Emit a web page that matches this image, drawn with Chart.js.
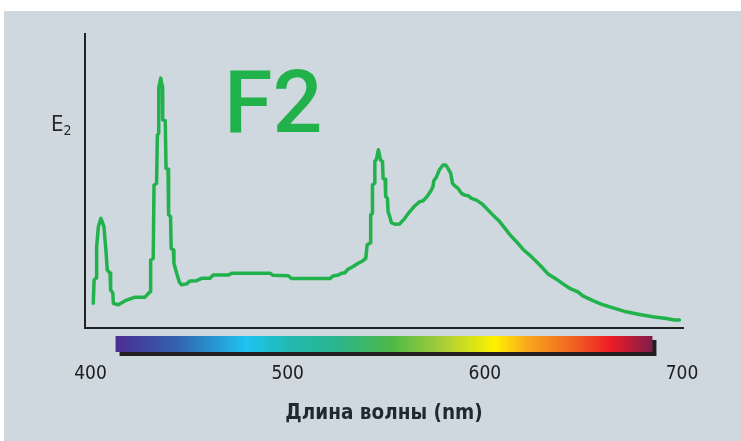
<!DOCTYPE html>
<html>
<head>
<meta charset="utf-8">
<script src="https://cdn.jsdelivr.net/npm/chart.js@4.4.0/dist/chart.umd.min.js"></script>
<style>
  html, body { margin: 0; padding: 0; background: #ffffff; }
  #wrap { position: relative; width: 741px; height: 441px; overflow: hidden; }
  #panel { position: absolute; left: 4px; top: 11px; width: 737px; height: 430px; background: #cfd8de; }
  #c { position: absolute; left: 0; top: 0; }
</style>
</head>
<body>
<div id="wrap">
  <div id="panel"></div>
  <canvas id="c" width="741" height="441"></canvas>
</div>
<script>
// Wavelength (nm)
const wavelengths = [
  401.4, 401.8, 402.8, 403.1, 404.0, 405.3, 406.8, 407.8, 408.5, 409.9,
  410.2, 411.3, 411.6, 414.1, 418.3, 422.6, 427.6, 430.2, 430.5, 431.8,
  432.2, 433.5, 433.9, 434.6, 434.6, 435.6, 436.4, 436.6, 437.9, 438.3,
  439.3, 439.6, 440.6, 440.9, 442.0, 442.3, 443.7, 445.0, 446.2, 448.8,
  450.4, 453.8, 456.4, 460.6, 462.2, 469.8, 471.6, 491.0, 492.6, 500.2,
  502.0, 521.4, 523.0, 525.6, 527.3, 529.0, 530.6, 533.2, 535.7, 538.2,
  539.6, 540.3, 542.0, 542.1, 543.0, 543.0, 544.0, 544.2, 545.0, 546.0,
  547.1, 548.1, 548.4, 549.4, 549.7, 550.6, 550.9, 551.8, 552.6, 554.3,
  556.8, 559.4, 561.9, 564.4, 567.0, 568.7, 570.7, 572.4, 573.7, 574.1,
  575.4, 577.1, 578.8, 580.2, 581.3, 582.7, 583.6, 584.7, 586.4, 588.1,
  589.8, 591.5, 593.2, 595.7, 598.2, 600.8, 604.1, 607.5, 610.9, 613.5,
  616.8, 619.3, 622.7, 625.3, 628.6, 632.0, 636.3, 639.6, 643.0, 647.2,
  649.7, 654.8, 659.9, 665.8, 671.7, 678.5, 685.2, 692.0, 696.2, 698.7
];
// Relative spectral power E2
const intensity = [
  8.4, 16.3, 17.0, 27.7, 34.5, 37.3, 34.5, 26.5, 19.7, 18.7,
  12.9, 11.9, 8.4, 7.9, 9.5, 10.5, 10.5, 12.3, 23.1, 23.7,
  48.6, 49.2, 65.6, 66.2, 81.5, 85.0, 82.1, 70.8, 70.5, 54.3,
  54.0, 38.5, 37.9, 27.1, 26.5, 22.0, 18.6, 15.7, 14.7, 15.0,
  16.0, 16.1, 16.9, 16.9, 18.0, 18.0, 18.6, 18.6, 17.9, 17.8,
  16.8, 16.8, 17.7, 18.0, 18.6, 18.8, 20.0, 20.9, 22.0, 22.9,
  23.7, 28.3, 29.0, 38.5, 39.0, 48.7, 49.2, 56.6, 57.4, 60.6,
  57.2, 56.6, 50.9, 50.6, 44.7, 44.1, 39.6, 37.9, 35.8, 35.3,
  35.4, 37.3, 39.6, 41.5, 43.0, 43.3, 44.7, 46.4, 48.1, 50.1,
  51.3, 54.0, 55.4, 55.4, 54.3, 52.6, 49.2, 48.4, 47.5, 45.8,
  45.2, 45.0, 44.1, 43.5, 42.4, 40.7, 38.4, 36.2, 33.3, 31.1,
  28.8, 26.8, 24.8, 23.1, 20.9, 18.4, 16.6, 15.0, 13.5, 12.3,
  10.9, 9.3, 7.9, 6.7, 5.5, 4.6, 3.8, 3.2, 2.7, 2.7
];
const xTicks = [400, 500, 600, 700];
const xMin = 397.2, xMax = 700.5;
const yMin = 0, yMax = 100;

// Spectrum strip: wavelength range and colour stops
const stripRange = [412.7, 685];
const stripStops = [
  [412.7, '#4b2e90'], [444, '#3262ae'], [479, '#1ec3f0'], [501, '#21b9b0'],
  [525, '#2bb58c'], [552, '#4cb848'], [578, '#a5cd39'], [605, '#fff200'],
  [622, '#f8a61c'], [644, '#f26522'], [664, '#ed1c24'], [685, '#7e1d4c']
];

const titleText = 'F2';
const yLabel = 'E';
const ySub = '2';
const xTitle = 'Длина волны (nm)';

const LABEL_FONT = '"Liberation Sans Narrow", "DejaVu Sans Condensed", Roboto, sans-serif';

const decorPlugin = {
  id: 'decor',
  beforeDatasetsDraw(chart) {
    const ctx = chart.ctx;
    const xs = chart.scales.x;
    const a = chart.chartArea;
    // spectrum strip
    const x0 = xs.getPixelForValue(stripRange[0]);
    const x1 = xs.getPixelForValue(stripRange[1]);
    const top = a.bottom + 8, h = 16;
    ctx.save();
    ctx.fillStyle = '#231f20';
    ctx.fillRect(x0 + 4, top + 4, x1 - x0, h);
    const g = ctx.createLinearGradient(x0, 0, x1, 0);
    stripStops.forEach(([w, c]) => g.addColorStop((w - stripRange[0]) / (stripRange[1] - stripRange[0]), c));
    ctx.fillStyle = g;
    ctx.fillRect(x0, top, x1 - x0, h);
    // big title
    ctx.fillStyle = '#22b24c';
    ctx.font = '500 88px Roboto, sans-serif';
    ctx.textBaseline = 'alphabetic';
    ctx.textAlign = 'left';
    ctx.fillText(titleText, 224, 132);
    // E2 label
    ctx.fillStyle = '#2a2a2a';
    ctx.font = '22px ' + LABEL_FONT;
    ctx.fillText(yLabel, 51, 131);
    const ew = ctx.measureText(yLabel).width;
    ctx.font = '14px ' + LABEL_FONT;
    ctx.fillText(ySub, 51 + ew, 135);
    ctx.restore();
  }
};

new Chart(document.getElementById('c'), {
  type: 'line',
  data: {
    datasets: [{
      data: wavelengths.map((w, i) => ({ x: w, y: intensity[i] })),
      borderColor: '#22b24c',
      borderWidth: 3.5,
      borderJoinStyle: 'round',
      borderCapStyle: 'round',
      pointRadius: 0,
      tension: 0,
      fill: false
    }]
  },
  options: {
    responsive: false,
    animation: false,
    devicePixelRatio: 1,
    layout: { padding: { left: 85, top: 34, right: 58, bottom: 0 } },
    plugins: { legend: { display: false }, tooltip: { enabled: false } },
    scales: {
      x: {
        type: 'linear',
        min: xMin, max: xMax,
        afterBuildTicks(s) { s.ticks = xTicks.map(v => ({ value: v })); },
        afterFit(s) { s.height = 113; },
        grid: { display: false, drawTicks: false },
        border: { display: true, color: '#222222', width: 2 },
        ticks: {
          padding: 35,
          color: '#1c1c1c',
          font: { family: LABEL_FONT, size: 19 },
          callback: v => String(v),
          maxRotation: 0
        },
        title: {
          display: true,
          text: xTitle,
          color: '#1f2a30',
          font: { family: LABEL_FONT, size: 20.5, weight: 'bold' },
          padding: { top: 0, bottom: 15 }
        }
      },
      y: {
        min: yMin, max: yMax,
        afterFit(s) { s.width = 0; },
        grid: { display: false, drawTicks: false },
        border: { display: true, color: '#222222', width: 2 },
        ticks: { display: false }
      }
    }
  },
  plugins: [decorPlugin]
});
</script>
</body>
</html>
